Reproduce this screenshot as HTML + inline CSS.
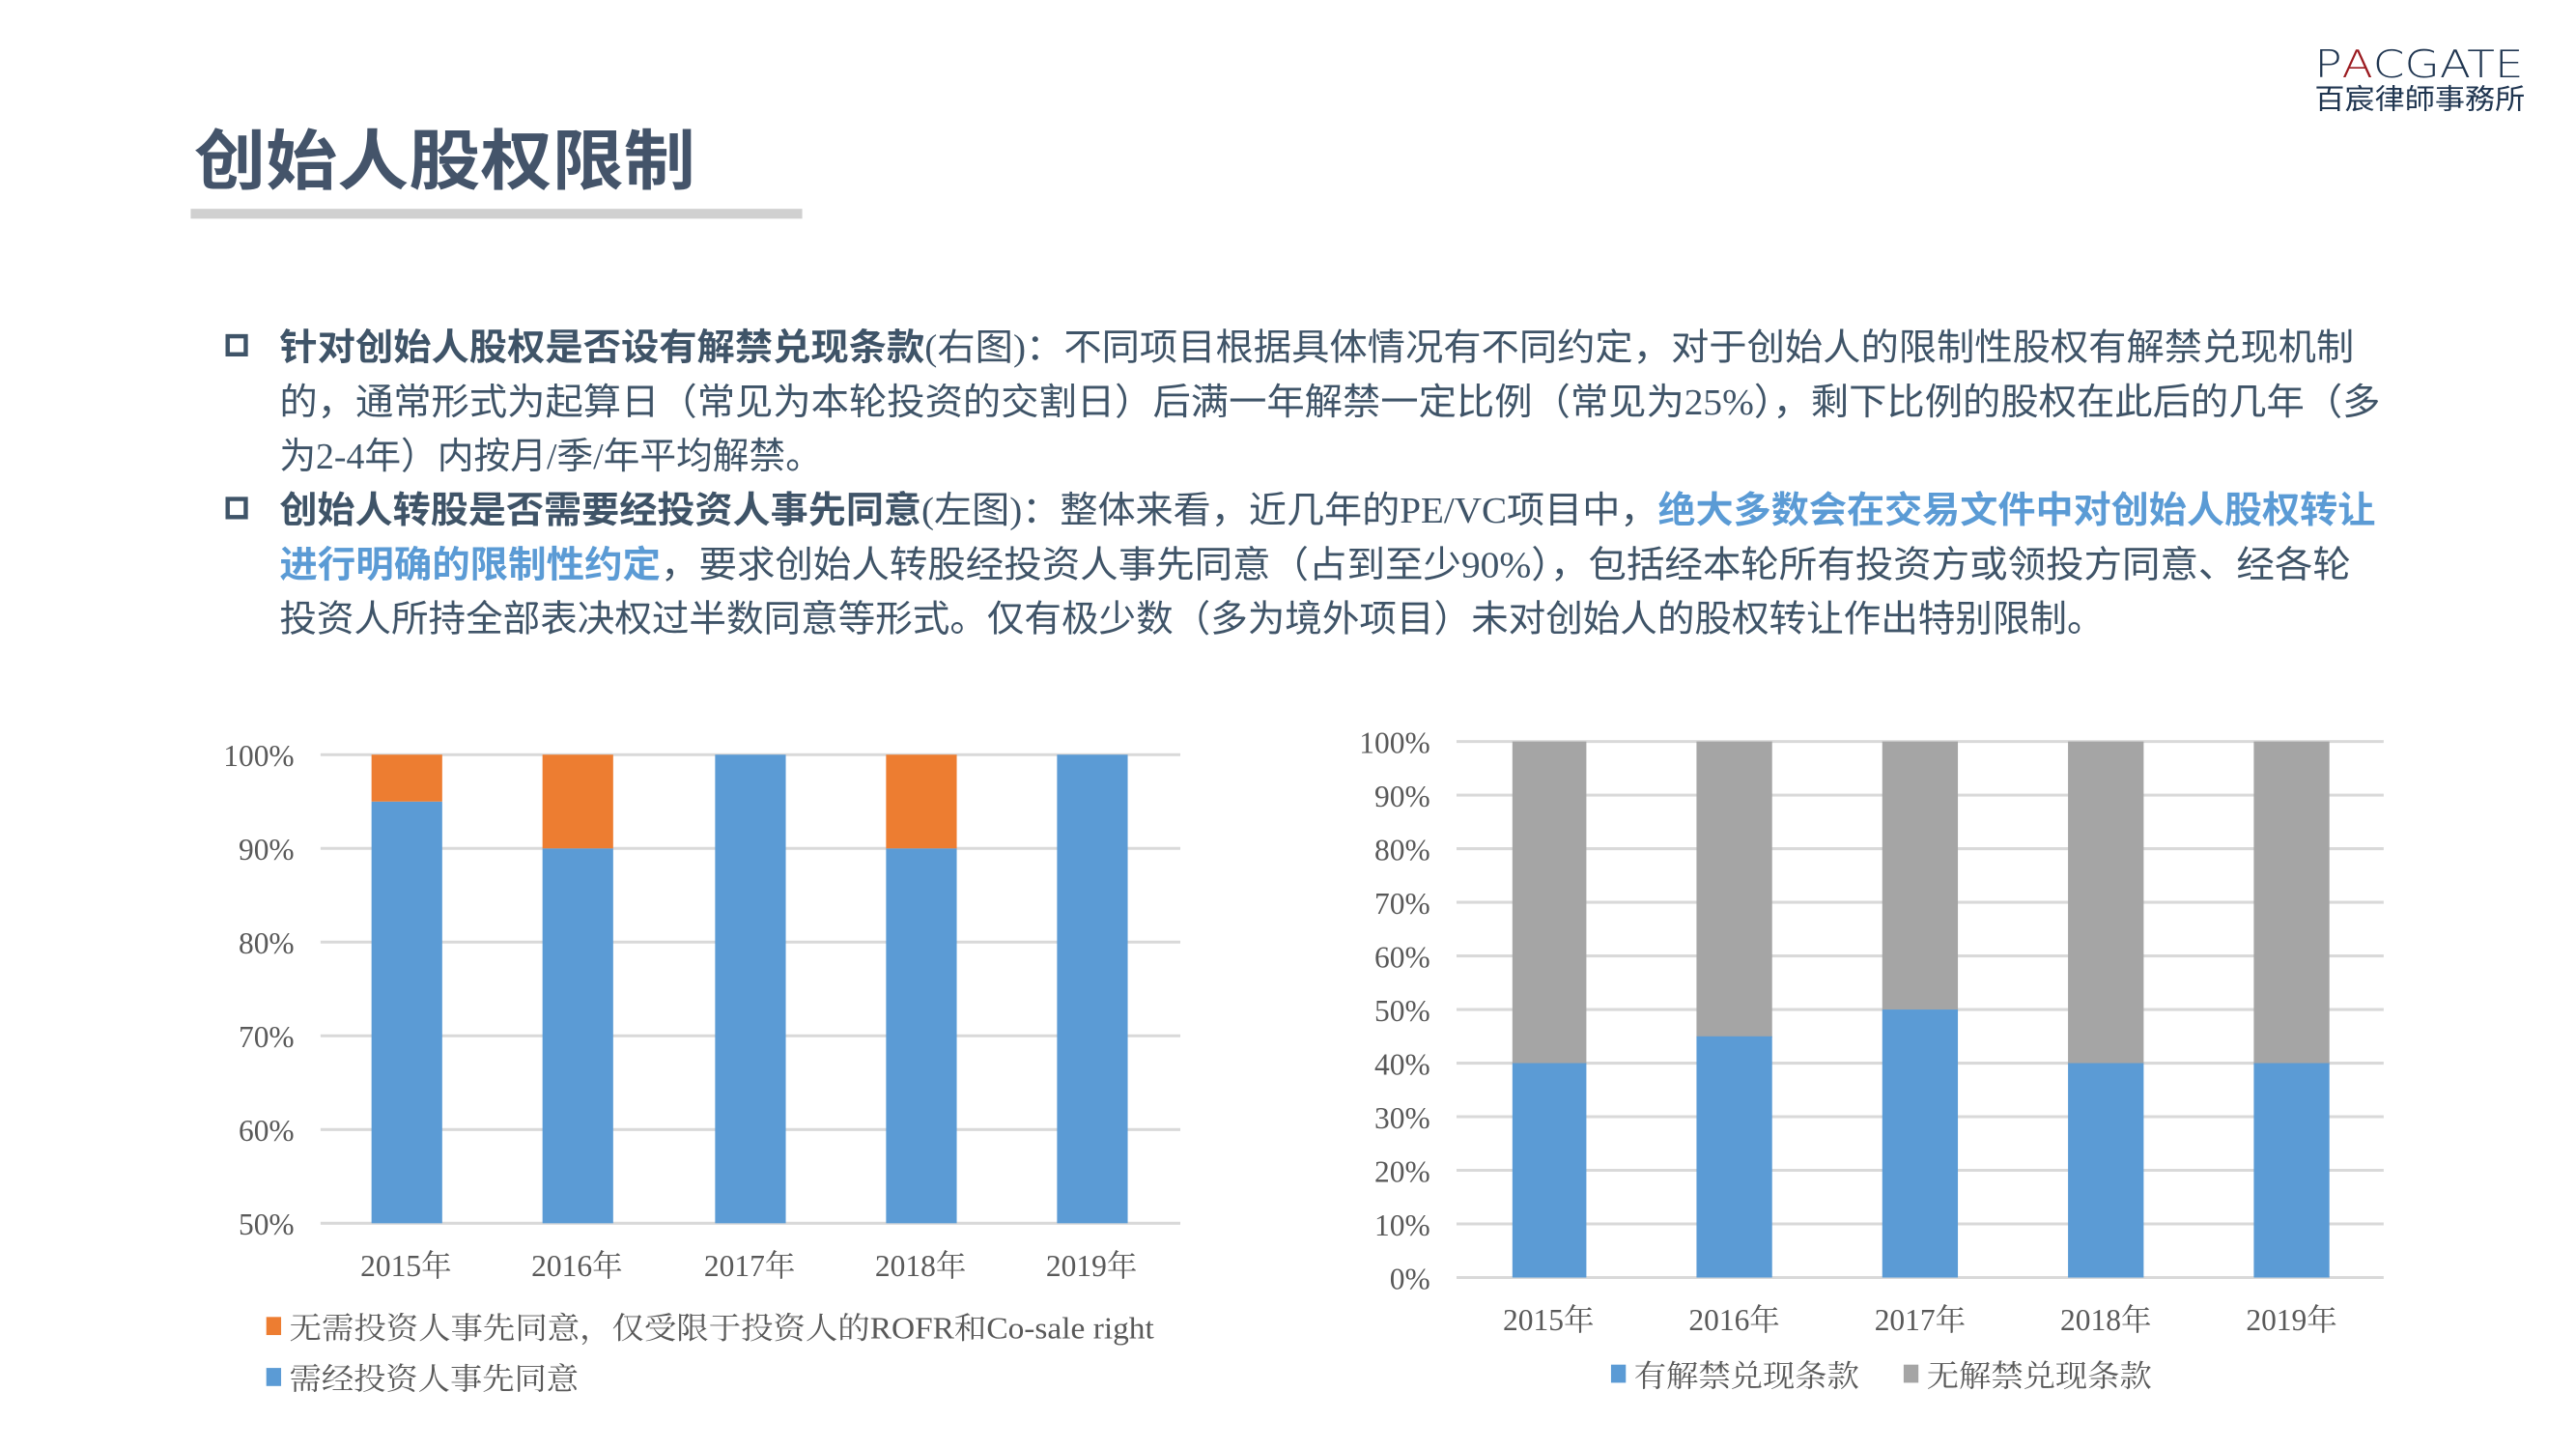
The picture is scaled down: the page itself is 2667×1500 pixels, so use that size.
<!DOCTYPE html>
<html><head><meta charset="utf-8"><style>
html,body{margin:0;padding:0;background:#fff;}
svg{display:block;}
.t{font-family:"Liberation Serif","Noto Sans CJK SC",sans-serif;fill:#3f5468;font-size:22.5px;}
.b{font-family:"Liberation Sans","Noto Sans CJK SC",sans-serif;font-weight:bold;}
.blue{fill:#5b9bd5;}
.lab{font-family:"Liberation Serif","Noto Serif CJK SC",serif;fill:#595959;font-size:18.5px;}
</style></head><body>
<svg width="2667" height="1500" viewBox="0 0 1567 881.3" preserveAspectRatio="none" xmlns="http://www.w3.org/2000/svg">
<rect width="1567" height="881.3" fill="#fff"/>
<!-- logo -->
<text x="1408" y="47" font-family="DejaVu Sans,sans-serif" font-weight="200" font-size="23" fill="#1f3550" textLength="127" lengthAdjust="spacingAndGlyphs">P<tspan fill="#9b1b20">A</tspan>CGATE</text>
<text x="1408" y="66" font-family="Liberation Sans,'Noto Sans CJK TC',sans-serif" font-size="17" fill="#1f3550" textLength="128" lengthAdjust="spacingAndGlyphs">百宸律師事務所</text>
<!-- title -->
<text x="118" y="112" font-family="Liberation Sans,'Noto Sans CJK SC',sans-serif" font-weight="bold" font-size="40" fill="#44546a" textLength="305" lengthAdjust="spacingAndGlyphs">创始人股权限制</text>
<rect x="116" y="127" width="372" height="6" fill="#d0d0d0"/>
<!-- bullets -->
<rect x="138.5" y="204.5" width="11" height="11" fill="none" stroke="#3f5468" stroke-width="2.6"/>
<rect x="138.5" y="303.5" width="11" height="11" fill="none" stroke="#3f5468" stroke-width="2.6"/>
<text class="t" x="170" y="219" textLength="1262" lengthAdjust="spacingAndGlyphs"><tspan class="b">针对创始人股权是否设有解禁兑现条款</tspan>(右图)：不同项目根据具体情况有不同约定，对于创始人的限制性股权有解禁兑现机制</text>
<text class="t" x="170" y="252" textLength="1278" lengthAdjust="spacingAndGlyphs">的，通常形式为起算日（常见为本轮投资的交割日）后满一年解禁一定比例（常见为25%），剩下比例的股权在此后的几年（多</text>
<text class="t" x="170" y="285" textLength="330" lengthAdjust="spacingAndGlyphs">为2-4年）内按月/季/年平均解禁。</text>
<text class="t" x="170" y="318" textLength="1275" lengthAdjust="spacingAndGlyphs"><tspan class="b">创始人转股是否需要经投资人事先同意</tspan>(左图)：整体来看，近几年的PE/VC项目中，<tspan class="b blue">绝大多数会在交易文件中对创始人股权转让</tspan></text>
<text class="t" x="170" y="351" textLength="1260" lengthAdjust="spacingAndGlyphs"><tspan class="b blue">进行明确的限制性约定</tspan>，要求创始人转股经投资人事先同意（占到至少90%），包括经本轮所有投资方或领投方同意、经各轮</text>
<text class="t" x="170" y="384" textLength="1110" lengthAdjust="spacingAndGlyphs">投资人所持全部表决权过半数同意等形式。仅有极少数（多为境外项目）未对创始人的股权转让作出特别限制。</text>

<!-- left chart -->
<g stroke="#d9d9d9" stroke-width="1.8">
<line x1="195" x2="718" y1="459" y2="459"/><line x1="195" x2="718" y1="516" y2="516"/>
<line x1="195" x2="718" y1="573" y2="573"/><line x1="195" x2="718" y1="630" y2="630"/>
<line x1="195" x2="718" y1="687" y2="687"/><line x1="195" x2="718" y1="744" y2="744"/>
</g>
<g class="lab" text-anchor="end">
<text x="179" y="466">100%</text><text x="179" y="523">90%</text><text x="179" y="580">80%</text>
<text x="179" y="637">70%</text><text x="179" y="694">60%</text><text x="179" y="751">50%</text>
</g>
<g fill="#5b9bd5">
<rect x="226" y="487.5" width="43" height="256.5"/>
<rect x="330" y="516" width="43" height="228"/>
<rect x="435" y="459" width="43" height="285"/>
<rect x="539" y="516" width="43" height="228"/>
<rect x="643" y="459" width="43" height="285"/>
</g>
<g fill="#ed7d31">
<rect x="226" y="459" width="43" height="28.5"/>
<rect x="330" y="459" width="43" height="57"/>
<rect x="539" y="459" width="43" height="57"/>
</g>
<g class="lab" text-anchor="middle">
<text x="247" y="776">2015年</text><text x="351" y="776">2016年</text><text x="456" y="776">2017年</text>
<text x="560" y="776">2018年</text><text x="664" y="776">2019年</text>
</g>
<rect x="162" y="801" width="9" height="11" fill="#ed7d31"/>
<text class="lab" x="176" y="814" textLength="526" lengthAdjust="spacingAndGlyphs">无需投资人事先同意，仅受限于投资人的ROFR和Co-sale right</text>
<rect x="162" y="832" width="9" height="11" fill="#5b9bd5"/>
<text class="lab" x="176" y="845" textLength="176" lengthAdjust="spacingAndGlyphs">需经投资人事先同意</text>

<!-- right chart -->
<g stroke="#d9d9d9" stroke-width="1.8">
<line x1="886" x2="1450" y1="451" y2="451"/><line x1="886" x2="1450" y1="483.6" y2="483.6"/>
<line x1="886" x2="1450" y1="516.2" y2="516.2"/><line x1="886" x2="1450" y1="548.8" y2="548.8"/>
<line x1="886" x2="1450" y1="581.4" y2="581.4"/><line x1="886" x2="1450" y1="614" y2="614"/>
<line x1="886" x2="1450" y1="646.6" y2="646.6"/><line x1="886" x2="1450" y1="679.2" y2="679.2"/>
<line x1="886" x2="1450" y1="711.8" y2="711.8"/><line x1="886" x2="1450" y1="744.4" y2="744.4"/>
<line x1="886" x2="1450" y1="777" y2="777"/>
</g>
<g class="lab" text-anchor="end">
<text x="870" y="458">100%</text><text x="870" y="490.6">90%</text><text x="870" y="523.2">80%</text>
<text x="870" y="555.8">70%</text><text x="870" y="588.4">60%</text><text x="870" y="621">50%</text>
<text x="870" y="653.6">40%</text><text x="870" y="686.2">30%</text><text x="870" y="718.8">20%</text>
<text x="870" y="751.4">10%</text><text x="870" y="784">0%</text>
</g>
<g fill="#a5a5a5">
<rect x="920" y="451" width="45" height="196"/>
<rect x="1032" y="451" width="46" height="180"/>
<rect x="1145" y="451" width="46" height="163"/>
<rect x="1258" y="451" width="46" height="196"/>
<rect x="1371" y="451" width="46" height="196"/>
</g>
<g fill="#5b9bd5">
<rect x="920" y="646.6" width="45" height="130.4"/>
<rect x="1032" y="630.3" width="46" height="146.7"/>
<rect x="1145" y="614" width="46" height="163"/>
<rect x="1258" y="646.6" width="46" height="130.4"/>
<rect x="1371" y="646.6" width="46" height="130.4"/>
</g>
<g class="lab" text-anchor="middle">
<text x="942" y="809">2015年</text><text x="1055" y="809">2016年</text><text x="1168" y="809">2017年</text>
<text x="1281" y="809">2018年</text><text x="1394" y="809">2019年</text>
</g>
<rect x="980" y="830" width="9" height="11" fill="#5b9bd5"/>
<text class="lab" x="994" y="843" textLength="137" lengthAdjust="spacingAndGlyphs">有解禁兑现条款</text>
<rect x="1158" y="830" width="9" height="11" fill="#a5a5a5"/>
<text class="lab" x="1172" y="843" textLength="137" lengthAdjust="spacingAndGlyphs">无解禁兑现条款</text>
</svg>
</body></html>
